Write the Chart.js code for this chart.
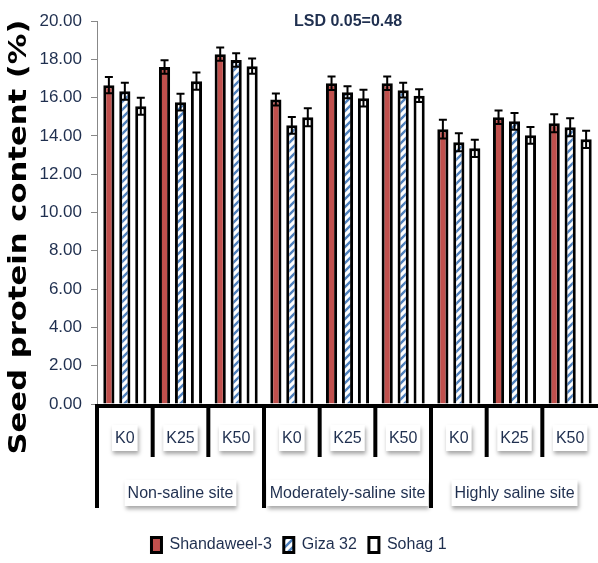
<!DOCTYPE html>
<html>
<head>
<meta charset="utf-8">
<script src="https://cdn.jsdelivr.net/npm/chart.js@4/dist/chart.umd.min.js"></script>
<style>
  html, body { margin:0; padding:0; background:#fff; }
  #wrap { width:598px; height:563px; }
</style>
</head>
<body>
<div id="wrap"><canvas id="c" width="598" height="563"></canvas></div>
<script>
const categories = ['K0','K25','K50','K0','K25','K50','K0','K25','K50'];
const sites = ['Non-saline site','Moderately-saline site','Highly saline site'];
const yTicks = [0,2,4,6,8,10,12,14,16,18,20];

const shandaweel = [16.65,17.60,18.27,15.90,16.75,16.75,14.35,14.97,14.66];
const giza32     = [16.33,15.76,17.96,14.55,16.28,16.39,13.67,14.76,14.45];
const sohag1     = [15.55,16.86,17.64,14.97,15.97,16.10,13.35,14.03,13.82];

const shandaweelErr = [0.42,0.35,0.35,0.31,0.35,0.35,0.49,0.35,0.47];
const giza32Err     = [0.44,0.44,0.35,0.44,0.31,0.38,0.47,0.44,0.47];
const sohag1Err     = [0.44,0.45,0.40,0.47,0.44,0.33,0.45,0.44,0.45];

const lsdText = 'LSD 0.05=0.48';
const yTitle = 'Seed protein content (%)';

const FONT = '"Liberation Sans", Arial, sans-serif';
const TXT = '#1f2f4f';

function hatch(){
    const c = document.createElement('canvas');
    c.width = 8; c.height = 8;
    const g = c.getContext('2d');
    g.fillStyle = '#fff'; g.fillRect(0,0,8,8);
    g.strokeStyle = '#4f81bd'; g.lineWidth = 2.4;
    g.beginPath();
    g.moveTo(-2,10); g.lineTo(10,-2);
    g.moveTo(-6,6); g.lineTo(6,-6);
    g.moveTo(2,14); g.lineTo(14,2);
    g.stroke();
    return g.createPattern(c,'repeat');
}

const errors = [shandaweelErr, giza32Err, sohag1Err];

function boxLabel(ctx, text, x, y){
    ctx.font = '16px ' + FONT;
    const w = ctx.measureText(text).width + 6, h = 26;
    ctx.save();
    ctx.shadowColor = 'rgba(0,0,0,0.35)';
    ctx.shadowBlur = 4; ctx.shadowOffsetX = 1; ctx.shadowOffsetY = 3;
    ctx.fillStyle = '#fff';
    ctx.fillRect(x - w/2, y - h/2, w, h);
    ctx.restore();
    ctx.fillStyle = TXT;
    ctx.textAlign = 'center'; ctx.textBaseline = 'middle';
    ctx.fillText(text, x, y + 1);
}

const decor = {
    id:'decor',
    afterDatasetsDraw(chart){
        const ctx = chart.ctx, y = chart.scales.y;
        ctx.save();
        ctx.strokeStyle = '#000'; ctx.lineWidth = 2;
        chart.data.datasets.forEach((ds, di) => {
            chart.getDatasetMeta(di).data.forEach((bar, i) => {
                const v = ds.data[i], e = errors[di][i];
                const top = y.getPixelForValue(v + e), bot = y.getPixelForValue(v - e);
                ctx.beginPath();
                ctx.moveTo(bar.x, top); ctx.lineTo(bar.x, bot);
                ctx.moveTo(bar.x - 4, top); ctx.lineTo(bar.x + 4, top);
                ctx.moveTo(bar.x - 4, bot); ctx.lineTo(bar.x + 4, bot);
                ctx.stroke();
            });
        });
        ctx.restore();
    },
    afterDraw(chart){
        const ctx = chart.ctx, x = chart.scales.x, area = chart.chartArea;
        ctx.save();
        // x axis structure
        ctx.strokeStyle = '#000'; ctx.lineWidth = 4; ctx.lineCap = 'butt';
        ctx.beginPath();
        ctx.moveTo(area.left - 2, area.bottom + 2); ctx.lineTo(area.right, area.bottom + 2);
        ctx.stroke();
        const bounds = [];
        for (let i = 0; i < categories.length; i++){
            bounds.push(i === 0 ? area.left : (x.getPixelForValue(i-1) + x.getPixelForValue(i)) / 2);
        }
        bounds.forEach((b, i) => {
            const long = i % 3 === 0;
            ctx.beginPath();
            ctx.moveTo(b, area.bottom);
            ctx.lineTo(b, long ? 508 : 457);
            ctx.stroke();
        });
        categories.forEach((c, i) => boxLabel(ctx, c, x.getPixelForValue(i), 438));
        sites.forEach((s, k) => {
            const cx = (x.getPixelForValue(k*3) + x.getPixelForValue(k*3+2)) / 2;
            boxLabel(ctx, s, cx, 493);
        });
        // LSD note
        ctx.fillStyle = TXT;
        ctx.font = 'bold 16px ' + FONT;
        ctx.textAlign = 'center'; ctx.textBaseline = 'middle';
        ctx.fillText(lsdText, 348, 22);
        // y title, stretched along its length to the reference span
        ctx.translate(20, 237);
        ctx.rotate(-Math.PI/2);
        ctx.fillStyle = '#000';
        ctx.font = 'bold 24px "DejaVu Sans", sans-serif';
        const tw = ctx.measureText(yTitle).width;
        ctx.scale(435 / tw, 1);
        ctx.fillText(yTitle, 0, 0);
        ctx.restore();
    }
};

new Chart(document.getElementById('c'), {
    type:'bar',
    data:{
        labels: categories,
        datasets:[
            { label:'Shandaweel-3', data: shandaweel, backgroundColor:'#c0504d', borderColor:'#000', borderWidth:3 },
            { label:'Giza 32', data: giza32, backgroundColor: hatch(), borderColor:'#000', borderWidth:3 },
            { label:'Sohag 1', data: sohag1, backgroundColor:'#fff', borderColor:'#000', borderWidth:3 }
        ]
    },
    options:{
        responsive:false,
        animation:false,
        layout:{ padding:{ top:21, right:0, left:0, bottom:0 } },
        datasets:{ bar:{ categoryPercentage:0.86, barPercentage:0.7 } },
        plugins:{
            legend:{
                position:'bottom',
                labels:{ boxWidth:10, boxHeight:15, font:{ size:16, family: FONT }, color: TXT, padding:12 }
            },
            tooltip:{ enabled:false }
        },
        scales:{
            x:{
                grid:{ display:false },
                border:{ display:false },
                ticks:{ display:false },
                afterFit: s => { s.height = 121; }
            },
            y:{
                min:0, max:20,
                afterBuildTicks: s => { s.ticks = yTicks.map(v => ({ value:v })); },
                afterFit: s => { s.width = 97; },
                grid:{ display:true, drawOnChartArea:false, tickLength:6, color:'#888' },
                border:{ color:'#888', width:1 },
                ticks:{ callback: v => Number(v).toFixed(2), font:{ size:17, family: FONT }, color: TXT, padding:9 }
            }
        }
    },
    plugins:[decor]
});
</script>
</body>
</html>
